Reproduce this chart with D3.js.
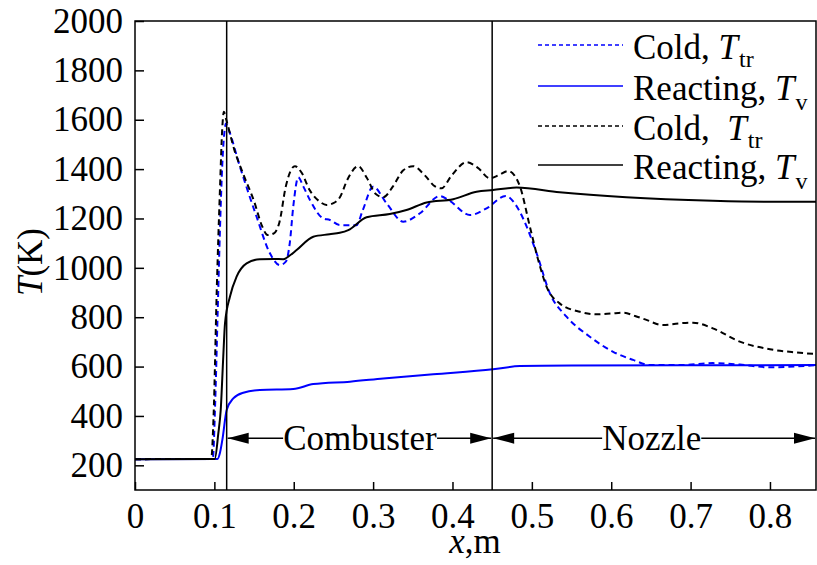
<!DOCTYPE html>
<html><head><meta charset="utf-8">
<script src="https://cdn.jsdelivr.net/npm/d3@7"></script>
<style>
html,body{margin:0;padding:0;background:#fff;}
text{font-family:"Liberation Serif","Times New Roman",serif;fill:#000;}
</style></head>
<body><svg id="chart" width="817" height="565"></svg>
<script>
// ---- data ----
const xTicks = [0, 0.1, 0.2, 0.3, 0.4, 0.5, 0.6, 0.7, 0.8];
const xTickLabels = ["0", "0.1", "0.2", "0.3", "0.4", "0.5", "0.6", "0.7", "0.8"];
const yTicks = [200, 400, 600, 800, 1000, 1200, 1400, 1600, 1800, 2000];
const yTickLabels = ["200", "400", "600", "800", "1000", "1200", "1400", "1600", "1800", "2000"];
const seriesNames = ["Cold, ", "Reacting, ", "Cold,  ", "Reacting, "];
const seriesSubs = ["tr", "v", "tr", "v"];
const sectionBounds = [0.1155, 0.45, 0.858];
const sectionLabels = ["Combuster", "Nozzle"];

const blueColdX = [0, 0.098, 0.101, 0.104, 0.107, 0.110, 0.113, 0.1146, 0.118, 0.1322, 0.1532, 0.170, 0.1826, 0.190, 0.195, 0.1994, 0.2057, 0.212, 0.2204, 0.2372, 0.2456, 0.258, 0.279, 0.287, 0.300, 0.317, 0.338, 0.359, 0.384, 0.395, 0.422, 0.443, 0.467, 0.4807, 0.489, 0.506, 0.5227, 0.5437, 0.573, 0.6024, 0.6276, 0.6486, 0.686, 0.728, 0.762, 0.80, 0.858];
const blueColdT = [225, 226, 450, 800, 1150, 1420, 1560, 1585, 1560, 1410, 1207, 1059, 1011, 1025, 1100, 1248, 1367, 1330, 1275, 1200, 1194, 1173, 1173, 1234, 1329, 1261, 1187, 1221, 1291, 1275, 1214, 1241, 1291, 1250, 1200, 1059, 897, 802, 721, 660, 627, 606, 606, 614, 608, 597, 606];

const blueReactX = [0, 0.104, 0.107, 0.110, 0.1155, 0.1238, 0.1364, 0.1574, 0.1994, 0.2246, 0.2708, 0.3128, 0.3757, 0.451, 0.485, 0.55, 0.70, 0.858];
const blueReactT = [225, 226, 250, 302, 424, 471, 494, 505, 509, 529, 539, 552, 569, 589, 602, 604, 605, 606];

const blackColdX = [0, 0.096, 0.099, 0.103, 0.107, 0.110, 0.112, 0.115, 0.125, 0.136, 0.150, 0.160, 0.167, 0.175, 0.182, 0.190, 0.2015, 0.210, 0.220, 0.232, 0.2414, 0.250, 0.258, 0.268, 0.2813, 0.292, 0.303, 0.3128, 0.325, 0.338, 0.3505, 0.365, 0.378, 0.3862, 0.398, 0.4177, 0.432, 0.447, 0.458, 0.470, 0.478, 0.485, 0.4975, 0.508, 0.5185, 0.535, 0.5605, 0.5815, 0.600, 0.615, 0.630, 0.6444, 0.665, 0.685, 0.703, 0.728, 0.762, 0.80, 0.83, 0.858];
const blackColdT = [225, 226, 400, 910, 1315, 1570, 1632, 1600, 1480, 1383, 1270, 1170, 1133, 1140, 1185, 1330, 1412, 1385, 1315, 1270, 1255, 1262, 1285, 1360, 1412, 1365, 1300, 1286, 1330, 1395, 1412, 1375, 1330, 1322, 1370, 1428, 1405, 1363, 1375, 1392, 1375, 1330, 1167, 1032, 924, 856, 822, 812, 815, 818, 805, 789, 768, 775, 778, 755, 701, 670, 658, 651];

const blackReactX = [0, 0.1005, 0.105, 0.108, 0.1112, 0.1134, 0.1196, 0.128, 0.1406, 0.1574, 0.175, 0.1868, 0.195, 0.2036, 0.2246, 0.245, 0.258, 0.2687, 0.2918, 0.321, 0.342, 0.3674, 0.4009, 0.4303, 0.451, 0.4807, 0.535, 0.619, 0.728, 0.80, 0.858];
const blackReactT = [225, 226, 330, 424, 640, 775, 883, 964, 1018, 1035, 1036, 1035, 1050, 1072, 1126, 1136, 1142, 1153, 1205, 1218, 1234, 1265, 1278, 1308, 1315, 1325, 1306, 1286, 1272, 1268, 1268];

// ---- layout ----
const W = 817, H = 565;
const m = {left: 135, top: 21, right: 1, bottom: 75};
const iw = W - m.left - m.right, ih = H - m.top - m.bottom;
const FS = 35;
const BLUE = "#0000ff";

const svg = d3.select("#chart");
const g = svg.append("g").attr("transform", `translate(${m.left},${m.top})`);
const x = d3.scaleLinear().domain([0, 0.858]).range([0, iw]);
const y = d3.scaleLinear().domain([100, 2000]).range([ih, 0]);

const xAxis = g.append("g").attr("transform", `translate(0,${ih})`)
  .call(d3.axisBottom(x).tickValues(xTicks).tickFormat((d, i) => xTickLabels[i]).tickSize(-8).tickPadding(13));
const yAxis = g.append("g")
  .call(d3.axisLeft(y).tickValues(yTicks).tickFormat((d, i) => yTickLabels[i]).tickSize(-9).tickPadding(12));
[xAxis, yAxis].forEach(a => {
  a.select(".domain").remove();
  a.selectAll(".tick line").attr("stroke", "#000").attr("stroke-width", 1.5);
  a.selectAll(".tick text").attr("font-size", FS).attr("font-family", '"Liberation Serif", serif').attr("fill", "#000");
});

// series
const series = [
  {xs: blueColdX, ts: blueColdT, color: BLUE, dash: "6,4", w: 2},
  {xs: blueReactX, ts: blueReactT, color: BLUE, dash: null, w: 2},
  {xs: blackColdX, ts: blackColdT, color: "#000", dash: "6,4", w: 2},
  {xs: blackReactX, ts: blackReactT, color: "#000", dash: null, w: 2}
];
const line = d3.line().x(d => x(d[0])).y(d => y(d[1])).curve(d3.curveMonotoneX);
const clip = svg.append("defs").append("clipPath").attr("id", "clip").append("rect").attr("width", iw).attr("height", ih);
const plot = g.append("g").attr("clip-path", "url(#clip)");
[1, 0, 3, 2].forEach(i => {
  const s = series[i];
  plot.append("path").datum(s.xs.map((v, k) => [v, s.ts[k]]))
    .attr("fill", "none").attr("stroke", s.color).attr("stroke-width", s.w)
    .attr("stroke-dasharray", s.dash).attr("d", line);
});

// section vertical lines
[sectionBounds[0], sectionBounds[1]].forEach(v => {
  g.append("line").attr("x1", x(v)).attr("x2", x(v)).attr("y1", 0).attr("y2", ih)
    .attr("stroke", "#000").attr("stroke-width", 1.5);
});

// section arrows
const arrowT = 310;
const ay = y(arrowT);
function arrowHead(tipX, dir) {
  const L = 21, hh = 5.5;
  g.append("path").attr("d", `M${tipX},${ay} L${tipX + dir * L},${ay - hh} L${tipX + dir * L},${ay + hh} Z`).attr("fill", "#000");
}
for (let i = 0; i < 2; i++) {
  const x0 = x(sectionBounds[i]) + 1, x1 = x(sectionBounds[i + 1]) - 1;
  const cx = i === 0 ? x(0.2834) : x(0.651);
  const t = g.append("text").attr("x", cx).attr("y", ay).attr("dy", "0.33em")
    .attr("text-anchor", "middle").attr("font-size", FS).text(sectionLabels[i]);
  const bb = t.node().getBBox();
  g.append("line").attr("x1", x0).attr("x2", bb.x).attr("y1", ay).attr("y2", ay).attr("stroke", "#000").attr("stroke-width", 1.5);
  g.append("line").attr("x1", bb.x + bb.width).attr("x2", x1).attr("y1", ay).attr("y2", ay).attr("stroke", "#000").attr("stroke-width", 1.5);
  arrowHead(x0, 1);
  arrowHead(x1, -1);
}

// frame
g.append("rect").attr("width", iw).attr("height", ih).attr("fill", "none").attr("stroke", "#000").attr("stroke-width", 1.5);

// legend
const lg = svg.append("g");
const rowY = [45, 86, 126, 165];
series.forEach((s, i) => {
  lg.append("line").attr("x1", 538).attr("x2", 623).attr("y1", rowY[i]).attr("y2", rowY[i])
    .attr("stroke", s.color).attr("stroke-width", 1.6).attr("stroke-dasharray", s.dash ? "4,3" : null);
  const t = lg.append("text").attr("x", 633).attr("y", rowY[i] + 14).attr("font-size", FS).attr("xml:space", "preserve");
  t.append("tspan").text(seriesNames[i]);
  t.append("tspan").attr("font-style", "italic").text("T");
  t.append("tspan").attr("font-size", 24).attr("dy", seriesSubs[i] === "tr" ? 8 : 10).attr("dx", 1).text(seriesSubs[i]);
});

// axis titles
const xt = svg.append("text").attr("x", 475).attr("y", 553).attr("text-anchor", "middle").attr("font-size", FS);
xt.append("tspan").attr("font-style", "italic").text("x");
xt.append("tspan").text(",m");
const yt = svg.append("text").attr("transform", "translate(42,262) rotate(-90)").attr("text-anchor", "middle").attr("font-size", FS);
yt.append("tspan").attr("font-style", "italic").text("T");
yt.append("tspan").text("(K)");
</script></body></html>
